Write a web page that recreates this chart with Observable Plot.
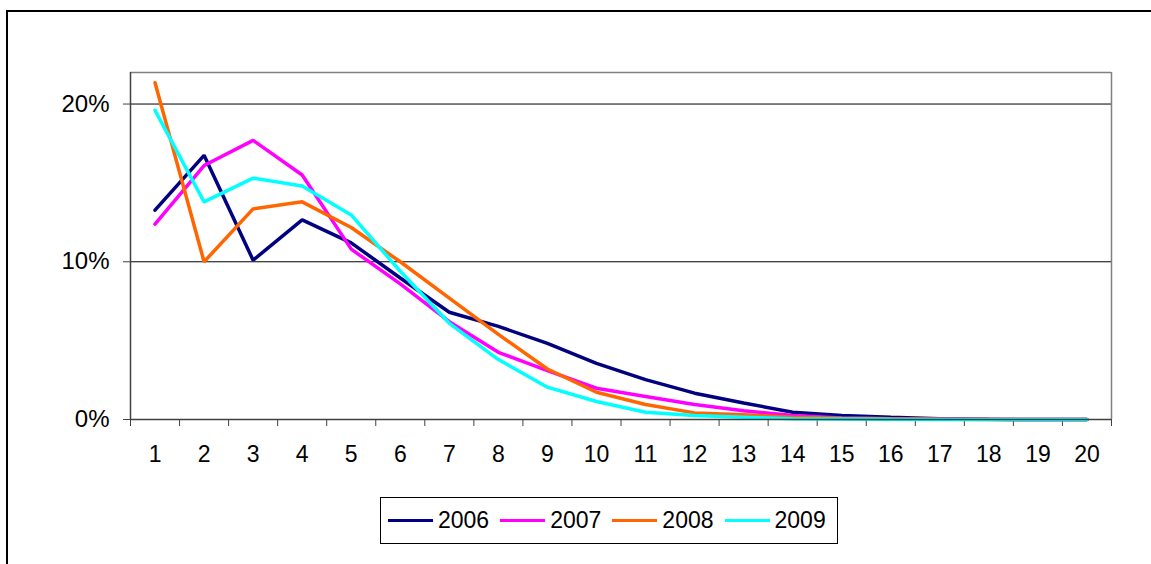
<!DOCTYPE html>
<html>
<head>
<meta charset="utf-8">
<script src="https://cdn.jsdelivr.net/npm/d3@7"></script>
<script src="https://cdn.jsdelivr.net/npm/@observablehq/plot@0.6"></script>
<style>
  html, body { margin: 0; padding: 0; background: #fff; width: 1151px; height: 564px; overflow: hidden; }
  body { position: relative; font-family: "Liberation Sans", Arial, sans-serif; }
  #frame { position: absolute; left: 6px; top: 10px; width: 1150px; height: 700px; border-top: 2px solid #000; border-left: 2px solid #000; }
  #chart { position: absolute; left: 0; top: 0; }
  #legend { position: absolute; left: 380px; top: 497px; width: 449px; height: 45px; border: 1px solid #000; display: flex; align-items: center; padding-left: 7px; box-sizing: content-box; }
  .item { display: flex; align-items: center; margin-right: 11px; }
  .swatch { width: 45px; height: 3.5px; margin-right: 5px; }
  .lab { font-size: 23px; color: #000; }
</style>
</head>
<body>
<div id="frame"></div>
<div id="chart"></div>
<div id="legend"></div>
<script>
const categories = d3.range(1, 21);
const seriesNames = ["2006", "2007", "2008", "2009"];
const seriesColors = ["#000080", "#FF00FF", "#FF6600", "#00FFFF"];
const values2006 = [13.27, 16.75, 10.1, 12.66, 11.2, 8.97, 6.8, 5.9, 4.83, 3.56, 2.53, 1.67, 1.05, 0.46, 0.25, 0.14, 0.05, 0.01, 0, 0];
const values2007 = [12.38, 16.1, 17.7, 15.5, 10.8, 8.6, 6.2, 4.26, 3.1, 1.98, 1.46, 0.95, 0.55, 0.25, 0.1, 0.05, 0.02, 0.01, 0, 0];
const values2008 = [21.35, 10.0, 13.35, 13.8, 12.17, 10.0, 7.7, 5.4, 3.2, 1.73, 0.95, 0.42, 0.3, 0.15, 0.08, 0.04, 0.01, 0, 0, 0];
const values2009 = [19.6, 13.8, 15.3, 14.8, 12.97, 9.4, 6.1, 3.8, 2.05, 1.14, 0.46, 0.25, 0.15, 0.05, 0.03, 0.01, 0, 0, 0, 0];
const yTicks = [0, 0.1, 0.2];

const allValues = [values2006, values2007, values2008, values2009];
const rows = [];
seriesNames.forEach((name, i) => {
  categories.forEach((c, j) => rows.push({series: name, x: c, y: allValues[i][j] / 100}));
});
const bandEdges = d3.range(0.5, 21, 1);

const chart = Plot.plot({
  width: 1151,
  height: 470,
  marginLeft: 130,
  marginRight: 40,
  marginTop: 72,
  marginBottom: 51,
  style: {fontFamily: "Liberation Sans, Arial, sans-serif", fontSize: "23px", color: "#000", background: "transparent"},
  x: {domain: [0.5, 20.5], axis: null},
  y: {domain: [0, 0.22], axis: null},
  color: {domain: seriesNames, range: seriesColors},
  marks: [
    Plot.ruleY([0.1, 0.2], {stroke: "#000", strokeWidth: 1}),
    Plot.ruleY([0.22], {stroke: "#808080", strokeWidth: 1.5}),
    Plot.ruleX([20.5], {stroke: "#808080", strokeWidth: 1.5}),
    Plot.ruleX([0.5], {stroke: "#404040", strokeWidth: 1.5}),
    Plot.axisY(yTicks, {tickSize: 7, tickPadding: 14, tickFormat: d3.format(".0%"), fontSize: 24, stroke: "#404040", label: null}),
    Plot.axisX(bandEdges, {tickSize: 7, text: null, stroke: "#404040", label: null}),
    Plot.axisX(categories, {tickSize: 0, tickPadding: 26, fontSize: 23, label: null}),
    Plot.line(rows, {x: "x", y: "y", z: "series", stroke: "series", strokeWidth: 3.5, strokeLinejoin: "miter"}),
    Plot.ruleY([0], {stroke: "#404040", strokeWidth: 1.5})
  ]
});
document.getElementById("chart").appendChild(chart);

const legend = document.getElementById("legend");
seriesNames.forEach((name, i) => {
  const item = document.createElement("div");
  item.className = "item";
  const sw = document.createElement("div");
  sw.className = "swatch";
  sw.style.background = seriesColors[i];
  const lab = document.createElement("span");
  lab.className = "lab";
  lab.textContent = name;
  item.appendChild(sw);
  item.appendChild(lab);
  legend.appendChild(item);
});
</script>
</body>
</html>
